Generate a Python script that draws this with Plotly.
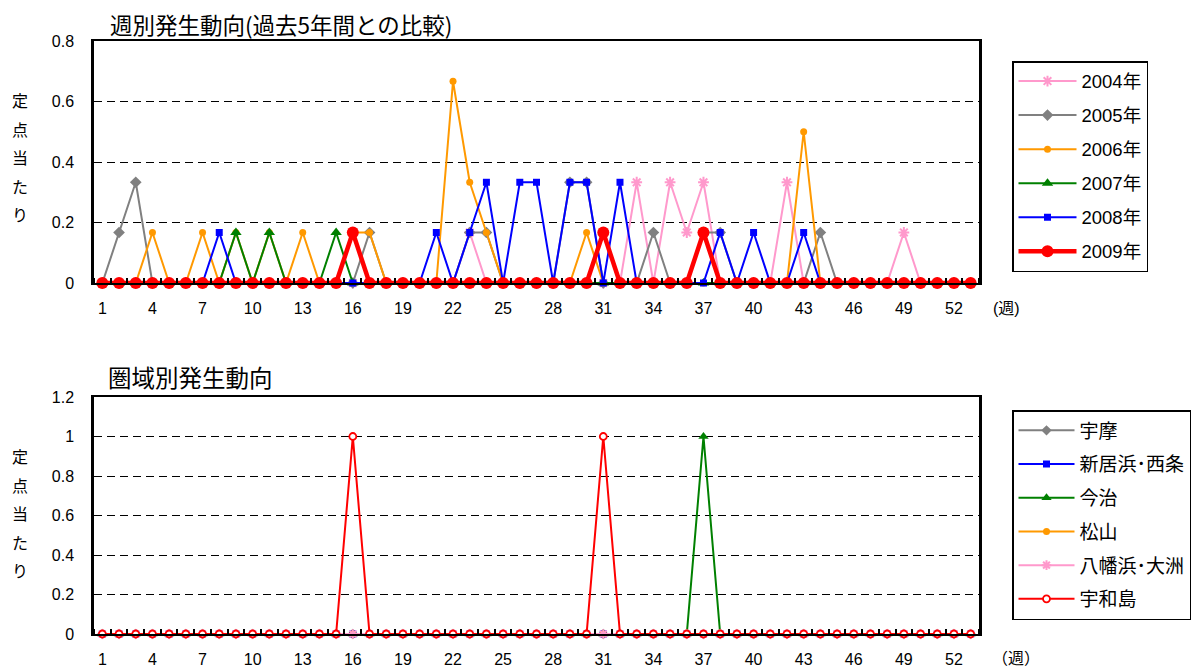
import plotly.graph_objects as go

# ---------------- data ----------------
weeks = list(range(1, 54))
x_tick_vals = list(range(1, 54, 3))
x_tick_text = [str(v) for v in x_tick_vals]

years = ["2004年", "2005年", "2006年", "2007年", "2008年", "2009年"]

y2004 = [0, 0, 0, 0, 0, 0, 0, 0, 0, 0,
         0, 0, 0, 0, 0, 0, 0, 0, 0, 0,
         0, 0, 0.167, 0, 0, 0, 0, 0, 0, 0,
         0, 0, 0.333, 0, 0.333, 0.167, 0.333, 0, 0, 0,
         0, 0.333, 0, 0, 0, 0, 0, 0, 0.167, 0,
         0, 0, 0]
y2005 = [0, 0.167, 0.333, 0, 0, 0, 0, 0, 0, 0,
         0, 0, 0, 0, 0, 0, 0.167, 0, 0, 0,
         0, 0, 0.167, 0.167, 0, 0, 0, 0, 0.333, 0.333,
         0, 0, 0, 0.167, 0, 0, 0.167, 0.167, 0, 0,
         0, 0, 0, 0.167, 0, 0, 0, 0, 0, 0,
         0, 0, 0]
y2006 = [0, 0, 0, 0.167, 0, 0, 0.167, 0, 0.167, 0,
         0.167, 0, 0.167, 0, 0, 0.167, 0.167, 0, 0, 0,
         0, 0.667, 0.333, 0.167, 0, 0, 0, 0, 0, 0.167,
         0, 0, 0, 0, 0, 0, 0, 0, 0, 0,
         0, 0, 0.5, 0, 0, 0, 0, 0, 0, 0,
         0, 0, 0]
y2007 = [0, 0, 0, 0, 0, 0, 0, 0, 0.167, 0,
         0.167, 0, 0, 0, 0.167, 0, 0, 0, 0, 0,
         0, 0, 0, 0, 0, 0, 0, 0, 0, 0,
         0, 0, 0, 0, 0, 0, 0, 0, 0, 0,
         0, 0, 0, 0, 0, 0, 0, 0, 0, 0,
         0, 0, 0]
y2008 = [0, 0, 0, 0, 0, 0, 0, 0.167, 0, 0,
         0, 0, 0, 0, 0, 0, 0, 0, 0, 0,
         0.167, 0, 0.167, 0.333, 0, 0.333, 0.333, 0, 0.333, 0.333,
         0, 0.333, 0, 0, 0, 0, 0, 0.167, 0, 0.167,
         0, 0, 0.167, 0, 0, 0, 0, 0, 0, 0,
         0, 0, 0]
y2009 = [0, 0, 0, 0, 0, 0, 0, 0, 0, 0,
         0, 0, 0, 0, 0, 0.167, 0, 0, 0, 0,
         0, 0, 0, 0, 0, 0, 0, 0, 0, 0,
         0.167, 0, 0, 0, 0, 0, 0.167, 0, 0, 0,
         0, 0, 0, 0, 0, 0, 0, 0, 0, 0,
         0, 0, 0]

regions = ["宇摩", "新居浜･西条", "今治", "松山", "八幡浜･大洲", "宇和島"]
r_uma = [0, 0, 0, 0, 0, 0, 0, 0, 0, 0,
         0, 0, 0, 0, 0, 0, 0, 0, 0, 0,
         0, 0, 0, 0, 0, 0, 0, 0, 0, 0,
         0, 0, 0, 0, 0, 0, 0, 0, 0, 0,
         0, 0, 0, 0, 0, 0, 0, 0, 0, 0,
         0, 0, 0]
r_niihama = [0, 0, 0, 0, 0, 0, 0, 0, 0, 0,
             0, 0, 0, 0, 0, 0, 0, 0, 0, 0,
             0, 0, 0, 0, 0, 0, 0, 0, 0, 0,
             0, 0, 0, 0, 0, 0, 0, 0, 0, 0,
             0, 0, 0, 0, 0, 0, 0, 0, 0, 0,
             0, 0, 0]
r_imabari = [0, 0, 0, 0, 0, 0, 0, 0, 0, 0,
             0, 0, 0, 0, 0, 0, 0, 0, 0, 0,
             0, 0, 0, 0, 0, 0, 0, 0, 0, 0,
             0, 0, 0, 0, 0, 0, 1, 0, 0, 0,
             0, 0, 0, 0, 0, 0, 0, 0, 0, 0,
             0, 0, 0]
r_matsuyama = [0, 0, 0, 0, 0, 0, 0, 0, 0, 0,
               0, 0, 0, 0, 0, 0, 0, 0, 0, 0,
               0, 0, 0, 0, 0, 0, 0, 0, 0, 0,
               0, 0, 0, 0, 0, 0, 0, 0, 0, 0,
               0, 0, 0, 0, 0, 0, 0, 0, 0, 0,
               0, 0, 0]
r_yawatahama = [0, 0, 0, 0, 0, 0, 0, 0, 0, 0,
                0, 0, 0, 0, 0, 0, 0, 0, 0, 0,
                0, 0, 0, 0, 0, 0, 0, 0, 0, 0,
                0, 0, 0, 0, 0, 0, 0, 0, 0, 0,
                0, 0, 0, 0, 0, 0, 0, 0, 0, 0,
                0, 0, 0]
r_uwajima = [0, 0, 0, 0, 0, 0, 0, 0, 0, 0,
             0, 0, 0, 0, 0, 1, 0, 0, 0, 0,
             0, 0, 0, 0, 0, 0, 0, 0, 0, 0,
             1, 0, 0, 0, 0, 0, 0, 0, 0, 0,
             0, 0, 0, 0, 0, 0, 0, 0, 0, 0,
             0, 0, 0]

title_top = "週別発生動向(過去5年間との比較)"
title_bottom = "圏域別発生動向"
y_label_chars = ["定", "点", "当", "た", "り"]

# ---------------- styles ----------------
PINK, GRAY, ORANGE, GREEN, BLUE, RED = "#FF99CC", "#808080", "#FF9900", "#008000", "#0000FF", "#FF0000"
FONT = "Liberation Sans, Arial, Noto Sans CJK JP, sans-serif"
JFONT = "Noto Sans CJK JP, sans-serif"

# page has an 8px body margin; positions below are given in window pixels
OFF = 8
W, H = 1203 - OFF, 668 - OFF


def px(x):
    return (x - OFF) / W


def py(y):
    return 1 - (y - OFF) / H


styles = [
    dict(color=PINK, symbol="asterisk-open", size=9, lw=2),
    dict(color=GRAY, symbol="diamond", size=9, lw=2),
    dict(color=ORANGE, symbol="circle", size=7, lw=2),
    dict(color=GREEN, symbol="triangle-up", size=10, lw=2),
    dict(color=BLUE, symbol="square", size=7, lw=2),
    dict(color=RED, symbol="circle", size=12, lw=4.5),
]

fig = go.Figure()

top_series = [y2004, y2005, y2006, y2007, y2008, y2009]
for name, ys, st in zip(years, top_series, styles):
    open_sym = st["symbol"].endswith("open")
    fig.add_trace(go.Scatter(
        x=weeks, y=ys, name=name, mode="lines+markers",
        xaxis="x", yaxis="y", legend="legend", legendgroup=name,
        line=dict(color=st["color"], width=st["lw"]),
        marker=dict(symbol=st["symbol"], size=st["size"], color=st["color"],
                    line=dict(color=st["color"], width=2 if open_sym else 0)),
        cliponaxis=False,
    ))

bottom_series = [r_uma, r_niihama, r_imabari, r_matsuyama, r_yawatahama, r_uwajima]
bstyles = [
    dict(color=GRAY, symbol="diamond", size=8),
    dict(color=BLUE, symbol="square", size=7),
    dict(color=GREEN, symbol="triangle-up", size=9),
    dict(color=ORANGE, symbol="circle", size=7),
    dict(color=PINK, symbol="asterisk-open", size=8),
    dict(color=RED, symbol="circle", size=7),
]
for i, (name, ys, st) in enumerate(zip(regions, bottom_series, bstyles)):
    if i == 5:
        marker = dict(symbol="circle", size=7, color="white", line=dict(color=RED, width=1.8))
    elif st["symbol"].endswith("open"):
        marker = dict(symbol=st["symbol"], size=st["size"], color=st["color"],
                      line=dict(color=st["color"], width=2))
    else:
        marker = dict(symbol=st["symbol"], size=st["size"], color=st["color"])
    fig.add_trace(go.Scatter(
        x=weeks, y=ys, name=name, mode="lines+markers",
        xaxis="x2", yaxis="y2", legend="legend2", legendgroup=name,
        line=dict(color=st["color"], width=2),
        marker=marker, cliponaxis=False,
    ))

x_dom = [px(94), px(979)]
top_dom = [py(283), py(41)]
bot_dom = [py(634), py(397)]

xcommon = dict(
    range=[0.5, 53.5], tickmode="array", tickvals=x_tick_vals, ticktext=x_tick_text,
    ticks="", showgrid=False, zeroline=False, showline=True, linecolor="black",
    linewidth=1.5, mirror=True, tickfont=dict(family=FONT, size=16, color="black"),
    ticklabelstandoff=10, automargin=False,
    minor=dict(tickmode="linear", tick0=0.5, dtick=1, ticks="inside", ticklen=5,
               tickcolor="black", tickwidth=1.5, showgrid=False),
)
ycommon = dict(
    dtick=0.2, tick0=0, showgrid=True, gridcolor="black", gridwidth=1, griddash="8px,5px",
    zeroline=False, showline=True, linecolor="black", linewidth=2.5, mirror=True,
    ticks="", tickfont=dict(family=FONT, size=16, color="black"), ticklabelstandoff=14,
    automargin=False,
)

legend_common = dict(xanchor="left", yanchor="top", bordercolor="black", borderwidth=1.5,
                     bgcolor="white")

fig.update_layout(
    width=W, height=H, margin=dict(l=0, r=0, t=0, b=0, autoexpand=False),
    paper_bgcolor="white", plot_bgcolor="white",
    font=dict(family=FONT, size=16, color="black"),
    xaxis=dict(domain=x_dom, anchor="y", **xcommon),
    yaxis=dict(domain=top_dom, anchor="x", range=[0, 0.8], **ycommon),
    xaxis2=dict(domain=x_dom, anchor="y2", **xcommon),
    yaxis2=dict(domain=bot_dom, anchor="x2", range=[0, 1.2], **ycommon),
    legend=dict(x=px(1012), y=py(61), tracegroupgap=7, itemwidth=58,
                font=dict(family=FONT, size=18.5, color="black"), **legend_common),
    legend2=dict(x=px(1012), y=py(410), tracegroupgap=6, itemwidth=56,
                 font=dict(family=FONT, size=19, color="black"), **legend_common),
    showlegend=True,
)

annotations = [
    dict(text=title_top, x=px(108), y=py(24), xref="paper", yref="paper",
         xanchor="left", yanchor="middle", showarrow=False,
         font=dict(family=JFONT, size=22.5, color="black")),
    dict(text=title_bottom, x=px(106), y=py(377), xref="paper", yref="paper",
         xanchor="left", yanchor="middle", showarrow=False,
         font=dict(family=JFONT, size=23.5, color="black")),
    dict(text="(週)", x=px(1006), y=py(308), xref="paper", yref="paper",
         xanchor="center", yanchor="middle", showarrow=False,
         font=dict(family=FONT, size=16, color="black")),
    dict(text="（週）", x=px(1016), y=py(657), xref="paper", yref="paper",
         xanchor="center", yanchor="middle", showarrow=False,
         font=dict(family=JFONT, size=16, color="black")),
]
for base in (100, 456):
    for k, ch in enumerate(y_label_chars):
        annotations.append(dict(
            text=ch, x=px(20), y=py(base + 28.5 * k), xref="paper", yref="paper",
            xanchor="center", yanchor="middle", showarrow=False,
            font=dict(family=JFONT, size=16, color="black")))
fig.update_layout(annotations=annotations)

fig.write_html("out.html")
